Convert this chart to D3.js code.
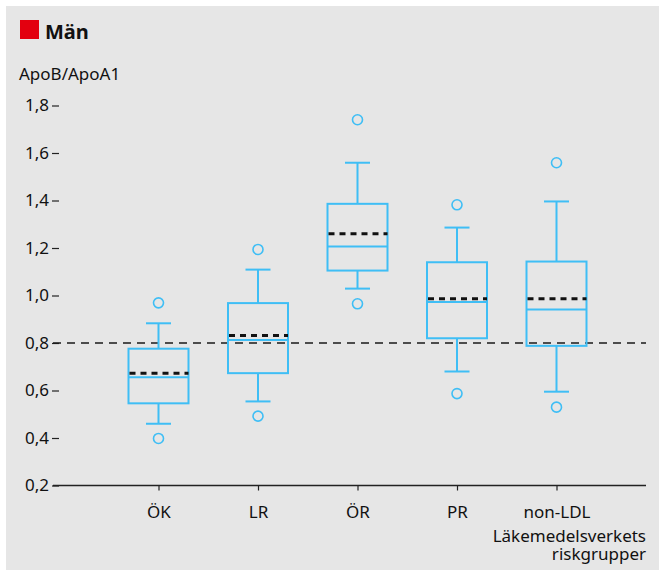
<!DOCTYPE html>
<html>
<head>
<meta charset="utf-8">
<script src="https://cdn.jsdelivr.net/npm/d3@7"></script>
<style>
  html, body { margin: 0; padding: 0; background: #ffffff; }
  svg { display: block; }
  text { font-family: "Noto Sans", "Open Sans", sans-serif; fill: #111; }
</style>
</head>
<body>
<div id="chart"></div>
<script>
// Läkemedelsverkets riskgrupper, män – ApoB/ApoA1
const categories = ["ÖK", "LR", "ÖR", "PR", "non-LDL"];
const whiskerLow  = [0.460, 0.554, 1.029, 0.680, 0.595];
const q1          = [0.546, 0.673, 1.105, 0.820, 0.788];
const median      = [0.656, 0.813, 1.206, 0.973, 0.941];
const mean        = [0.673, 0.832, 1.260, 0.986, 0.986];
const q3          = [0.776, 0.968, 1.386, 1.140, 1.143];
const whiskerHigh = [0.883, 1.109, 1.559, 1.286, 1.396];
const outlierLow  = [0.398, 0.492, 0.965, 0.587, 0.530];
const outlierHigh = [0.969, 1.194, 1.740, 1.382, 1.559];
const yTicks = [0.2, 0.4, 0.6, 0.8, 1.0, 1.2, 1.4, 1.6, 1.8];
const referenceLevel = 0.8;

const W = 659, H = 573;
const blue = "#3fbef5";
const fs = 17;

const svg = d3.select("#chart").append("svg")
  .attr("width", W).attr("height", H);

svg.append("rect")
  .attr("x", 6).attr("y", 6)
  .attr("width", W - 6).attr("height", H - 9)
  .attr("fill", "#e6e6e6");

const y = d3.scaleLinear().domain([0.2, 1.8]).range([485.5, 105.5]);
const x = d3.scalePoint().domain(categories).range([158.5, 556.5]);

const plotLeft = 53, plotRight = 646;
const boxW = 60, capW = 25;

// Legend / title
svg.append("rect")
  .attr("x", 20).attr("y", 20).attr("width", 19).attr("height", 19)
  .attr("fill", "#e3000f");
svg.append("text")
  .attr("x", 45).attr("y", 39)
  .attr("font-size", 20).attr("font-weight", 700)
  .text("Män");

svg.append("text")
  .attr("x", 19).attr("y", 80)
  .attr("font-size", fs)
  .text("ApoB/ApoA1");

// Y axis: labels with short tick dashes, no domain line
const fmt = d => d3.format(".1f")(d).replace(".", ",");
const yAxis = svg.append("g")
  .attr("transform", "translate(59,0)")
  .call(d3.axisLeft(y).tickValues(yTicks).tickFormat(fmt).tickSize(7).tickPadding(3));
yAxis.select(".domain").remove();
yAxis.selectAll(".tick line").attr("stroke", "#222").attr("stroke-width", 1.2);
yAxis.selectAll(".tick text")
  .attr("font-size", fs).attr("font-family", "Noto Sans, sans-serif").attr("fill", "#111");

// X axis
const xAxis = svg.append("g")
  .attr("transform", `translate(0,${y(0.2)})`)
  .call(d3.axisBottom(x).tickSize(5).tickSizeOuter(0).tickPadding(15));
xAxis.select(".domain").remove();
xAxis.selectAll(".tick line").attr("stroke", "#222").attr("stroke-width", 1.2);
xAxis.selectAll(".tick text")
  .attr("font-size", fs).attr("font-family", "Noto Sans, sans-serif").attr("fill", "#111");

svg.append("line")
  .attr("x1", plotLeft).attr("x2", plotRight)
  .attr("y1", y(0.2)).attr("y2", y(0.2))
  .attr("stroke", "#222").attr("stroke-width", 1.3);

// Reference level
svg.append("line")
  .attr("x1", plotLeft).attr("x2", plotRight)
  .attr("y1", y(referenceLevel)).attr("y2", y(referenceLevel))
  .attr("stroke", "#1a1a1a").attr("stroke-width", 1.3)
  .attr("stroke-dasharray", "8,6");

// Boxes
const data = categories.map((c, i) => ({
  c, lo: whiskerLow[i], q1: q1[i], med: median[i], mean: mean[i],
  q3: q3[i], hi: whiskerHigh[i], oLo: outlierLow[i], oHi: outlierHigh[i]
}));

const g = svg.selectAll("g.box").data(data).join("g")
  .attr("class", "box")
  .attr("transform", d => `translate(${x(d.c)},0)`);

// whiskers
g.append("line").attr("x1", 0).attr("x2", 0)
  .attr("y1", d => y(d.q3)).attr("y2", d => y(d.hi))
  .attr("stroke", blue).attr("stroke-width", 2);
g.append("line").attr("x1", 0).attr("x2", 0)
  .attr("y1", d => y(d.q1)).attr("y2", d => y(d.lo))
  .attr("stroke", blue).attr("stroke-width", 2);
g.append("line").attr("x1", -capW / 2).attr("x2", capW / 2)
  .attr("y1", d => y(d.hi)).attr("y2", d => y(d.hi))
  .attr("stroke", blue).attr("stroke-width", 2);
g.append("line").attr("x1", -capW / 2).attr("x2", capW / 2)
  .attr("y1", d => y(d.lo)).attr("y2", d => y(d.lo))
  .attr("stroke", blue).attr("stroke-width", 2);

// box
g.append("rect")
  .attr("x", -boxW / 2).attr("width", boxW)
  .attr("y", d => y(d.q3)).attr("height", d => y(d.q1) - y(d.q3))
  .attr("fill", "none").attr("stroke", blue).attr("stroke-width", 2);

// median
g.append("line").attr("x1", -boxW / 2).attr("x2", boxW / 2)
  .attr("y1", d => y(d.med)).attr("y2", d => y(d.med))
  .attr("stroke", blue).attr("stroke-width", 2);

// mean
g.append("line").attr("x1", -boxW / 2 + 1).attr("x2", boxW / 2)
  .attr("y1", d => y(d.mean)).attr("y2", d => y(d.mean))
  .attr("stroke", "#111").attr("stroke-width", 3)
  .attr("stroke-dasharray", "6,5");

// outliers
g.append("circle").attr("cx", 0).attr("cy", d => y(d.oHi)).attr("r", 5)
  .attr("fill", "none").attr("stroke", blue).attr("stroke-width", 1.6);
g.append("circle").attr("cx", 0).attr("cy", d => y(d.oLo)).attr("r", 5)
  .attr("fill", "none").attr("stroke", blue).attr("stroke-width", 1.6);

// X axis title (two lines, right-aligned)
svg.append("text")
  .attr("x", 646).attr("y", 542)
  .attr("text-anchor", "end").attr("font-size", fs)
  .text("Läkemedelsverkets");
svg.append("text")
  .attr("x", 646).attr("y", 560)
  .attr("text-anchor", "end").attr("font-size", fs)
  .text("riskgrupper");
</script>
</body>
</html>
